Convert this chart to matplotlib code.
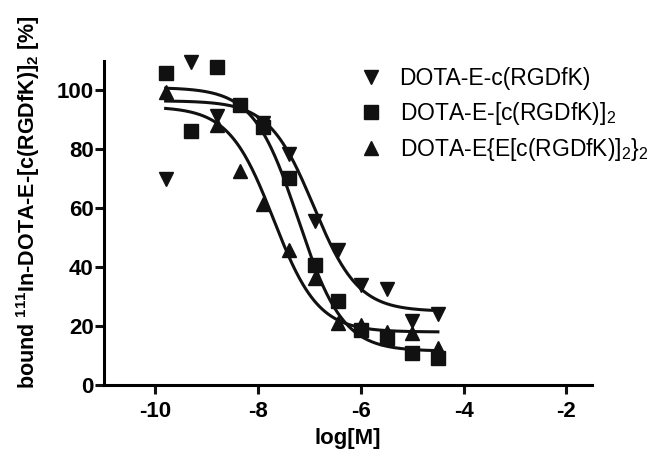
import numpy as np
import matplotlib.pyplot as plt

plt.rcParams['font.family'] = ['Liberation Sans', 'DejaVu Sans']
plt.rcParams['mathtext.fontset'] = 'custom'
plt.rcParams['mathtext.rm'] = 'Liberation Sans'
plt.rcParams['mathtext.bf'] = 'Liberation Sans:bold'
plt.rcParams['axes.unicode_minus'] = False

# data: log concentration vs % bound
x_mono = [-9.8, -9.3, -8.8, -7.9, -7.4, -6.9, -6.45, -6.0, -5.5, -5.0, -4.5]
y_mono = [70, 109.5, 91.4, 89, 78.5, 55.7, 46, 34, 32.6, 21.6, 24.2]

x_dim = [-9.8, -9.3, -8.8, -8.35, -7.9, -7.4, -6.9, -6.45, -6.0, -5.5, -5.0, -4.5]
y_dim = [106, 86.2, 108, 95, 87.6, 70.2, 40.6, 28.4, 18.8, 15.9, 11, 9.3]

x_tet = [-9.8, -8.8, -8.35, -7.9, -7.4, -6.9, -6.45, -6.0, -5.5, -5.0, -4.5]
y_tet = [99.5, 88.4, 72.8, 61.4, 46, 36.4, 21, 20.5, 18, 17.6, 12.5]

# sigmoidal fit parameters (top, bottom, logIC50)
fit_mono = [96.5, 25, -6.92]
fit_dim = [101, 11.5, -7.22]
fit_tet = [94.5, 18, -7.7]

labels = ['DOTA-E-c(RGDfK)',
          r'DOTA-E-[c(RGDfK)]$_2$',
          r'DOTA-E{E[c(RGDfK)]$_2$}$_2$']


def sigmoid(x, top, bottom, logic50):
    return bottom + (top - bottom) / (1 + 10 ** (x - logic50))


fig = plt.figure(figsize=(6.54, 4.59), dpi=100)
ax = fig.add_axes([104 / 654, 74 / 459, 488 / 654, 324 / 459])

xs = np.linspace(-9.8, -4.5, 300)
col = '#111111'
series = [(x_mono, y_mono, fit_mono, 'v'),
          (x_dim, y_dim, fit_dim, 's'),
          (x_tet, y_tet, fit_tet, '^')]
for (xd, yd, fit, m), lab in zip(series, labels):
    ax.plot(xs, sigmoid(xs, *fit), color=col, lw=2.2, zorder=2)
    ax.plot(xd, yd, m, color=col, ms=10, ls='none', label=lab, zorder=3,
            clip_on=False)

ax.set_xlim(-11, -1.5)
ax.set_ylim(0, 110)
ax.set_xticks([-10, -8, -6, -4, -2])
ax.set_yticks([0, 20, 40, 60, 80, 100])
for s in ['top', 'right']:
    ax.spines[s].set_visible(False)
for s in ['left', 'bottom']:
    ax.spines[s].set_linewidth(2.2)
ax.tick_params(width=2.2, length=6.5, labelsize=16, color=col)
ax.tick_params(axis='y', pad=1)
ax.tick_params(axis='x', pad=5)
for t in ax.get_xticklabels() + ax.get_yticklabels():
    t.set_fontweight('bold')

ax.set_xlabel('log[M]', fontsize=16, fontweight='bold', labelpad=4)
fig.text(28 / 654, 1 - 202 / 459,
         r'bound $^{\mathbf{111}}$In-DOTA-E-[c(RGDfK)]$_{\mathbf{2}}$ [%]',
         rotation=90, fontsize=15.5, fontweight='bold', ha='center', va='center')

ax.legend(loc='upper left', bbox_to_anchor=(348 / 654, 1 - 56 / 459),
          bbox_transform=fig.transFigure, frameon=False, fontsize=16.5,
          handlelength=1.0, handletextpad=0.75, labelspacing=0.4,
          borderpad=0, markerscale=1.0)

fig.savefig('out.png', dpi=100)
